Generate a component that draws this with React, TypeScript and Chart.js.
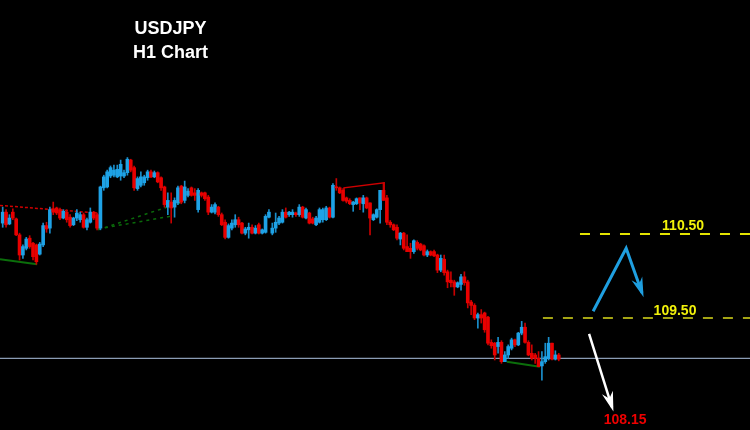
import React, { useEffect, useRef } from "react";
import { Chart, registerables } from "chart.js";

Chart.register(...registerables);

// ---- Candle data (USDJPY H1) ----
const opens = [
  110.63, 110.76, 110.62, 110.76, 110.68, 110.49, 110.25, 110.33, 110.45, 110.39,
  110.37, 110.26, 110.37, 110.60, 110.57, 110.80, 110.81, 110.79, 110.69, 110.76,
  110.70, 110.61, 110.69, 110.67, 110.73, 110.58, 110.64, 110.76, 110.73, 110.57,
  111.05, 111.06, 111.19, 111.20, 111.18, 111.19, 111.19, 111.23, 111.38, 111.29,
  111.04, 111.08, 111.11, 111.17, 111.24, 111.18, 111.23, 111.17, 111.06, 110.82,
  110.88, 110.82, 110.87, 111.07, 110.90, 110.96, 111.05, 110.99, 110.79, 110.99,
  110.99, 110.94, 110.76, 110.76, 110.82, 110.73, 110.64, 110.46, 110.57, 110.61,
  110.67, 110.63, 110.51, 110.55, 110.58, 110.51, 110.61, 110.51, 110.52, 110.70,
  110.51, 110.57, 110.63, 110.64, 110.76, 110.73, 110.73, 110.75, 110.73, 110.82,
  110.69, 110.75, 110.68, 110.61, 110.64, 110.67, 110.67, 110.81, 110.70, 111.06,
  111.05, 111.02, 110.93, 110.90, 110.85, 110.86, 110.93, 110.86, 110.93, 110.87,
  110.67, 110.70, 110.79, 111.02, 110.93, 110.64, 110.61, 110.58, 110.44, 110.51,
  110.35, 110.33, 110.29, 110.40, 110.38, 110.36, 110.25, 110.29, 110.29, 110.25,
  110.07, 110.20, 110.05, 109.95, 109.93, 109.87, 109.90, 109.99, 109.93, 109.69,
  109.65, 109.50, 109.54, 109.56, 109.51, 109.21, 109.20, 109.16, 109.21, 108.98,
  109.06, 109.14, 109.24, 109.18, 109.32, 109.39, 109.21, 109.08, 109.06, 109.02,
  108.93, 108.98, 109.02, 109.20, 109.01, 109.06,
];

const closes = [
  110.76, 110.61, 110.69, 110.69, 110.49, 110.25, 110.35, 110.44, 110.35, 110.23,
  110.17, 110.38, 110.60, 110.56, 110.79, 110.76, 110.75, 110.69, 110.77, 110.67,
  110.60, 110.69, 110.75, 110.73, 110.58, 110.67, 110.76, 110.69, 110.57, 111.06,
  111.18, 111.24, 111.29, 111.26, 111.27, 111.33, 111.23, 111.39, 111.26, 111.05,
  111.16, 111.18, 111.18, 111.24, 111.18, 111.23, 111.12, 111.05, 110.85, 110.90,
  110.81, 110.90, 111.05, 110.88, 111.06, 111.01, 110.96, 110.96, 111.02, 110.96,
  110.92, 110.76, 110.82, 110.85, 110.73, 110.61, 110.46, 110.60, 110.63, 110.67,
  110.61, 110.51, 110.56, 110.58, 110.51, 110.57, 110.51, 110.55, 110.71, 110.76,
  110.57, 110.64, 110.69, 110.76, 110.70, 110.76, 110.76, 110.73, 110.82, 110.70,
  110.79, 110.63, 110.63, 110.69, 110.79, 110.79, 110.81, 110.70, 111.08, 111.05,
  110.99, 110.90, 110.89, 110.86, 110.88, 110.92, 110.87, 110.93, 110.81, 110.69,
  110.73, 110.79, 111.02, 110.90, 110.64, 110.61, 110.55, 110.45, 110.51, 110.33,
  110.29, 110.29, 110.42, 110.33, 110.31, 110.25, 110.29, 110.25, 110.24, 110.07,
  110.21, 110.04, 109.93, 109.92, 109.87, 109.92, 109.99, 109.92, 109.68, 109.65,
  109.50, 109.54, 109.50, 109.36, 109.20, 109.17, 109.06, 109.21, 108.98, 109.06,
  109.16, 109.24, 109.18, 109.32, 109.39, 109.21, 109.06, 109.02, 109.02, 108.92,
  108.98, 109.04, 109.20, 109.01, 109.06, 109.01,
];

const highs = [
  110.82, 110.79, 110.73, 110.80, 110.69, 110.51, 110.37, 110.46, 110.48, 110.40,
  110.38, 110.40, 110.63, 110.64, 110.82, 110.88, 110.82, 110.81, 110.79, 110.79,
  110.73, 110.70, 110.79, 110.76, 110.75, 110.69, 110.81, 110.77, 110.75, 111.07,
  111.20, 111.26, 111.31, 111.32, 111.32, 111.38, 111.26, 111.41, 111.39, 111.31,
  111.18, 111.24, 111.20, 111.26, 111.26, 111.25, 111.24, 111.18, 111.07, 110.99,
  110.99, 110.93, 111.07, 111.08, 111.13, 111.04, 111.06, 111.04, 111.04, 111.00,
  111.00, 110.96, 110.85, 110.87, 110.83, 110.75, 110.67, 110.62, 110.67, 110.73,
  110.70, 110.64, 110.58, 110.63, 110.61, 110.60, 110.63, 110.56, 110.73, 110.79,
  110.63, 110.75, 110.71, 110.79, 110.81, 110.77, 110.79, 110.76, 110.85, 110.83,
  110.81, 110.76, 110.70, 110.71, 110.81, 110.81, 110.83, 110.82, 111.10, 111.16,
  111.06, 111.04, 110.94, 110.92, 110.89, 110.93, 110.93, 110.96, 110.94, 110.87,
  110.74, 110.80, 111.02, 111.11, 110.96, 110.66, 110.62, 110.61, 110.52, 110.52,
  110.49, 110.39, 110.43, 110.42, 110.39, 110.37, 110.31, 110.30, 110.31, 110.26,
  110.25, 110.25, 110.07, 110.05, 109.95, 109.93, 110.02, 110.05, 109.95, 109.71,
  109.67, 109.56, 109.60, 109.57, 109.52, 109.24, 109.21, 109.27, 109.23, 109.10,
  109.18, 109.26, 109.25, 109.33, 109.46, 109.44, 109.23, 109.18, 109.08, 109.10,
  109.10, 109.20, 109.27, 109.20, 109.11, 109.08,
];

const lows = [
  110.58, 110.58, 110.61, 110.67, 110.48, 110.19, 110.21, 110.31, 110.33, 110.19,
  110.14, 110.25, 110.35, 110.52, 110.51, 110.73, 110.73, 110.67, 110.68, 110.64,
  110.58, 110.60, 110.66, 110.64, 110.57, 110.55, 110.63, 110.67, 110.55, 110.55,
  111.02, 111.05, 111.17, 111.18, 111.17, 111.14, 111.17, 111.20, 111.24, 111.02,
  111.02, 111.06, 111.08, 111.14, 111.17, 111.17, 111.11, 111.02, 110.82, 110.73,
  110.63, 110.70, 110.85, 110.86, 110.87, 110.94, 110.95, 110.90, 110.76, 110.94,
  110.90, 110.73, 110.75, 110.74, 110.71, 110.60, 110.44, 110.45, 110.55, 110.58,
  110.58, 110.50, 110.49, 110.45, 110.50, 110.50, 110.50, 110.50, 110.51, 110.69,
  110.49, 110.52, 110.61, 110.63, 110.69, 110.71, 110.70, 110.71, 110.71, 110.69,
  110.68, 110.62, 110.62, 110.60, 110.63, 110.64, 110.66, 110.69, 110.69, 111.02,
  110.98, 110.89, 110.87, 110.85, 110.77, 110.85, 110.79, 110.76, 110.80, 110.49,
  110.66, 110.69, 110.63, 110.90, 110.61, 110.58, 110.54, 110.43, 110.37, 110.31,
  110.29, 110.21, 110.27, 110.31, 110.30, 110.24, 110.23, 110.24, 110.23, 110.04,
  110.05, 110.01, 109.86, 109.87, 109.77, 109.86, 109.83, 109.89, 109.62, 109.54,
  109.48, 109.38, 109.44, 109.33, 109.18, 109.14, 109.00, 109.08, 108.96, 108.98,
  109.02, 109.12, 109.16, 109.17, 109.30, 109.20, 109.05, 109.00, 108.96, 108.92,
  108.76, 108.96, 109.00, 109.00, 109.00, 108.99,
];

// ---- Price levels & drawn objects (bar index, price) ----
const levelHigh = 110.5;
const levelLow = 109.5;
const currentPrice = 109.02;
const levelHighStart = 171.3;
const levelLowStart = 160.3;

const blueArrowX = [175.2, 185.0, 189.7];
const blueArrowY = [109.58, 110.33, 109.8];
const whiteArrowX = [174.0, 180.8];
const whiteArrowY = [109.31, 108.44];

const redTrendX = [-0.8, 28.0];
const redTrendY = [110.84, 110.75];
const greenLeftX = [-0.8, 10.2];
const greenLeftY = [110.2, 110.14];
const greenDotUpperX = [28.3, 53.3];
const greenDotUpperY = [110.55, 110.88];
const greenDotLowerX = [28.3, 51.1];
const greenDotLowerY = [110.56, 110.72];
const redBoxX = [101.3, 101.3, 113.2, 113.2];
const redBoxY = [111.02, 111.05, 111.11, 111.02];
const greenRightX = [149.6, 159.4];
const greenRightY = [108.98, 108.92];

const titleLines = ["USDJPY", "H1 Chart"];
const titleX = 49.8;
const titleY = [112.94, 112.655];
const levelLabels = ["110.50", "109.50", "108.15"];
const levelLabelX = [201.9, 199.5, 184.7];
const levelLabelY = [110.595, 109.585, 108.29];

const X_MIN = -0.8;
const X_MAX = 221.75;
const Y_MIN = 108.1667;
const Y_MAX = 113.2857;

const BULL = "#1ea2e6";
const BEAR = "#e80000";
const BULL_WICK = "#1a8fcc";
const BEAR_WICK = "#c80000";

const pts = (xs: number[], ys: number[]) => xs.map((x, i) => ({ x, y: ys[i] }));

function arrowHead(ctx: CanvasRenderingContext2D, chart: any, xs: number[], ys: number[], color: string) {
  const sx = chart.scales.x;
  const sy = chart.scales.y;
  const n = xs.length;
  const x1 = sx.getPixelForValue(xs[n - 2]);
  const y1 = sy.getPixelForValue(ys[n - 2]);
  const x2 = sx.getPixelForValue(xs[n - 1]);
  const y2 = sy.getPixelForValue(ys[n - 1]);
  const ang = Math.atan2(y2 - y1, x2 - x1);
  const len = 13;
  const spread = 0.32;
  ctx.save();
  ctx.fillStyle = color;
  ctx.strokeStyle = color;
  ctx.lineWidth = 1.5;
  ctx.beginPath();
  ctx.moveTo(x2 + 2 * Math.cos(ang), y2 + 2 * Math.sin(ang));
  ctx.lineTo(x2 - len * Math.cos(ang - spread), y2 - len * Math.sin(ang - spread));
  ctx.lineTo(x2 - len * 0.6 * Math.cos(ang), y2 - len * 0.6 * Math.sin(ang));
  ctx.lineTo(x2 - len * Math.cos(ang + spread), y2 - len * Math.sin(ang + spread));
  ctx.closePath();
  ctx.fill();
  ctx.stroke();
  ctx.restore();
}

const overlayPlugin = {
  id: "overlay",
  afterDatasetsDraw(chart: any) {
    const ctx: CanvasRenderingContext2D = chart.ctx;
    arrowHead(ctx, chart, blueArrowX, blueArrowY, "#1f9fe0");
    arrowHead(ctx, chart, whiteArrowX, whiteArrowY, "#ffffff");
    const sx = chart.scales.x;
    const sy = chart.scales.y;
    ctx.save();
    ctx.textAlign = "center";
    ctx.textBaseline = "middle";
    ctx.fillStyle = "#ffffff";
    ctx.font = "bold 18px 'Liberation Sans', Arial, sans-serif";
    titleLines.forEach((t, i) => {
      ctx.fillText(t, sx.getPixelForValue(titleX), sy.getPixelForValue(titleY[i]));
    });
    ctx.font = "bold 14px 'Liberation Sans', Arial, sans-serif";
    const colors = ["#f2f20a", "#f2f20a", "#ee0000"];
    levelLabels.forEach((t, i) => {
      ctx.fillStyle = colors[i];
      ctx.fillText(t, sx.getPixelForValue(levelLabelX[i]), sy.getPixelForValue(levelLabelY[i]));
    });
    ctx.restore();
  },
};

export default function App() {
  const ref = useRef<HTMLCanvasElement | null>(null);

  useEffect(() => {
    if (!ref.current) return;
    const idx = opens.map((_, i) => i);
    const bull = idx.map((i) => closes[i] >= opens[i]);

    const lineDs = (data: any[], color: string, width: number, dash: number[] = []) => ({
      type: "line" as const,
      data,
      borderColor: color,
      borderWidth: width,
      borderDash: dash,
      pointRadius: 0,
      fill: false,
      tension: 0,
      order: 5,
    });

    const chart = new Chart(ref.current, {
      type: "bar",
      data: {
        datasets: [
          {
            type: "bar",
            data: idx.map((i) => ({ x: i, y: [lows[i], highs[i]] })) as any,
            backgroundColor: bull.map((b) => (b ? BULL_WICK : BEAR_WICK)),
            barThickness: 1,
            grouped: false,
            order: 2,
          } as any,
          {
            type: "bar",
            data: idx.map((i) => ({ x: i, y: [opens[i], closes[i]] })) as any,
            backgroundColor: bull.map((b) => (b ? BULL : BEAR)),
            barThickness: 3,
            minBarLength: 1,
            grouped: false,
            order: 1,
          } as any,
          lineDs(pts([X_MIN, X_MAX], [currentPrice, currentPrice]), "#8a9cb4", 1.2),
          lineDs(pts([levelHighStart, X_MAX], [levelHigh, levelHigh]), "#e4e400", 2, [10, 10]),
          lineDs(pts([levelLowStart, X_MAX], [levelLow, levelLow]), "#a4a414", 2, [10, 10]),
          lineDs(pts(redTrendX, redTrendY), "#d00000", 1.5, [3, 2]),
          lineDs(pts(greenLeftX, greenLeftY), "#0b6e0b", 2),
          lineDs(pts(greenDotUpperX, greenDotUpperY), "#0a6a0a", 1.5, [3, 4]),
          lineDs(pts(greenDotLowerX, greenDotLowerY), "#0a6a0a", 1.5, [3, 4]),
          lineDs(pts(redBoxX, redBoxY), "#d00000", 1.5),
          lineDs(pts(greenRightX, greenRightY), "#0b6e0b", 2),
          { ...lineDs(pts(blueArrowX, blueArrowY), "#1f9fe0", 3), order: 0 },
          { ...lineDs(pts(whiteArrowX, whiteArrowY), "#ffffff", 2.5), order: 0 },
        ] as any,
      },
      options: {
        responsive: false,
        animation: false,
        layout: { padding: 0 },
        plugins: {
          legend: { display: false },
          tooltip: { enabled: false },
          title: { display: false },
        },
        scales: {
          x: { type: "linear", min: X_MIN, max: X_MAX, display: false, offset: false },
          y: { type: "linear", min: Y_MIN, max: Y_MAX, display: false },
        },
      } as any,
      plugins: [overlayPlugin],
    });

    return () => chart.destroy();
  }, []);

  return (
    <div
      style={{
        position: "fixed",
        left: 0,
        top: 0,
        width: 750,
        height: 430,
        background: "#000000",
      }}
    >
      <canvas ref={ref} width={750} height={430} style={{ display: "block" }} />
    </div>
  );
}
